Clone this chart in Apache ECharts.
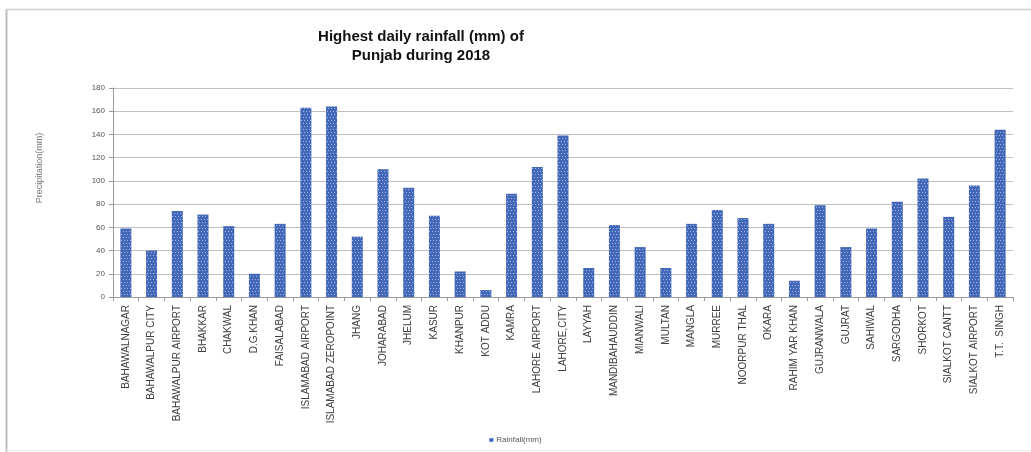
<!DOCTYPE html>
<html>
<head>
<meta charset="utf-8">
<script src="https://cdn.jsdelivr.net/npm/echarts@6/dist/echarts.min.js"></script>
<style>
  html, body { margin: 0; padding: 0; background: #ffffff; }
  #chart { width: 1031px; height: 452px; }
</style>
</head>
<body>
<div id="chart"></div>
<script>
// Stations in Punjab and their highest one-day rainfall in 2018
const stations = [
  'BAHAWALNAGAR', 'BAHAWALPUR CITY', 'BAHAWALPUR AIRPORT', 'BHAKKAR', 'CHAKWAL',
  'D.G.KHAN', 'FAISALABAD', 'ISLAMABAD AIRPORT', 'ISLAMABAD ZEROPOINT', 'JHANG',
  'JOHARABAD', 'JHELUM', 'KASUR', 'KHANPUR', 'KOT ADDU', 'KAMRA', 'LAHORE AIRPORT',
  'LAHORE,CITY', 'LAYYAH', 'MANDIBAHAUDDIN', 'MIANWALI', 'MULTAN', 'MANGLA',
  'MURREE', 'NOORPUR THAL', 'OKARA', 'RAHIM YAR KHAN', 'GUJRANWALA', 'GUJRAT',
  'SAHIWAL', 'SARGODHA', 'SHORKOT', 'SIALKOT CANTT', 'SIALKOT AIRPORT', 'T.T.  SINGH'
];
const rainfall = [
  59, 40, 74, 71, 61,
  20, 63, 163, 164, 52,
  110, 94, 70, 22, 6, 89, 112,
  139, 25, 62, 43, 25, 63,
  75, 68, 63, 14, 79, 43,
  59, 82, 102, 69, 96, 144
];
const yTicks = [0, 20, 40, 60, 80, 100, 120, 140, 160, 180];

const chart = echarts.init(document.getElementById('chart'), null, { renderer: 'canvas' });

chart.setOption({
  animation: false,
  backgroundColor: '#ffffff',
  textStyle: { fontFamily: 'Liberation Sans, Arial, sans-serif' },
  title: {
    text: 'Highest daily rainfall (mm) of\nPunjab during 2018',
    left: 416,
    top: 22,
    textAlign: 'center',
    textStyle: { fontSize: 15, fontWeight: 'bold', color: '#111111', lineHeight: 19 }
  },
  graphic: [
    { type: 'line', shape: { x1: 6.5, y1: 9, x2: 6.5, y2: 452 }, style: { stroke: '#bdbdbd', lineWidth: 2 } },
    { type: 'line', shape: { x1: 6, y1: 9.5, x2: 1031, y2: 9.5 }, style: { stroke: '#cfcfcf', lineWidth: 1.5 } },
    { type: 'line', shape: { x1: 6, y1: 450.5, x2: 1031, y2: 450.5 }, style: { stroke: '#ececec', lineWidth: 1 } },
    // y-axis title
    {
      type: 'text',
      x: 40, y: 168,
      rotation: Math.PI / 2,
      style: {
        text: 'Precipitation(mm)',
        fontSize: 9,
        fill: '#777777',
        align: 'center',
        verticalAlign: 'middle',
        fontFamily: 'Liberation Sans, Arial, sans-serif'
      }
    }
  ],
  legend: {
    data: ['Rainfall(mm)'],
    left: 'center',
    top: 431,
    itemWidth: 4,
    itemHeight: 4,
    itemGap: 2,
    textStyle: { fontSize: 8, color: '#555555', padding: [0, 0, 0, -2] },
    icon: 'rect'
  },
  grid: { left: 113, right: 18, top: 88, bottom: 155 },
  xAxis: {
    type: 'category',
    data: stations,
    axisLine: { lineStyle: { color: '#9a9a9a' } },
    axisTick: { show: true, alignWithLabel: false, length: 4, lineStyle: { color: '#9a9a9a' } },
    axisLabel: { rotate: 90, interval: 0, fontSize: 10, color: '#404040', margin: 8 }
  },
  yAxis: {
    type: 'value',
    min: 0,
    max: 180,
    interval: 20,
    axisLine: { show: true, lineStyle: { color: '#9a9a9a' } },
    axisTick: { show: true, length: 4, lineStyle: { color: '#9a9a9a' } },
    axisLabel: {
      fontSize: 8, color: '#555555', margin: 8,
      formatter: v => (yTicks.includes(v) ? String(v) : '')
    },
    splitLine: { lineStyle: { color: '#bfbfbf', width: 1 } }
  },
  series: [{
    name: 'Rainfall(mm)',
    type: 'bar',
    data: rainfall,
    barWidth: 11,
    itemStyle: {
      color: '#4468b8',
      decal: {
        symbol: 'rect',
        symbolSize: 1,
        color: 'rgba(190, 208, 245, 0.75)',
        dashArrayX: [[1, 2], [0, 1, 1, 1]],
        dashArrayY: [1, 2],
        rotation: 0
      }
    }
  }]
});
</script>
</body>
</html>
